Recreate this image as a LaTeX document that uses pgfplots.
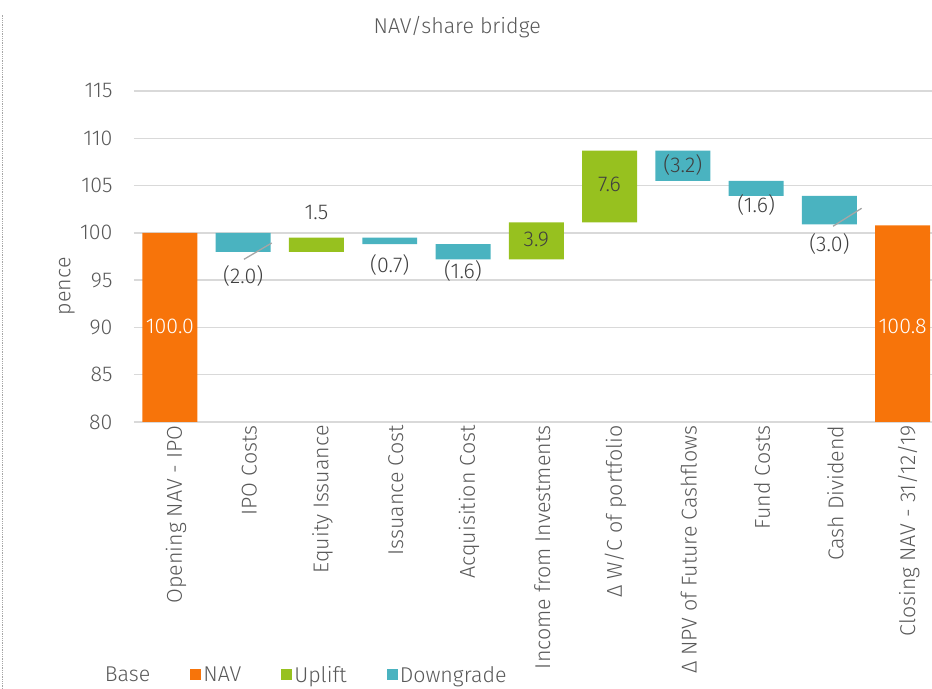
\documentclass[border=0pt]{standalone}
\usepackage{pgfplots}
\usepackage{pgfplotstable}
\pgfplotsset{compat=1.18}
\usepackage{fontspec}
\setmainfont{Fira Sans}[UprightFont={* Light}, Numbers=Proportional]
\definecolor{navorange}{RGB}{247,116,10}
\definecolor{uplift}{RGB}{151,193,31}
\definecolor{down}{RGB}{74,179,192}
\definecolor{gridgray}{RGB}{217,217,217}
\definecolor{textgray}{RGB}{89,89,89}
\definecolor{labgray}{RGB}{64,64,64}

\pgfplotstableread{
x base nav up down
0 0 100 0 0
1 98.0 0 0 2.0
2 98.0 0 1.5 0
3 98.8 0 0 0.7
4 97.2 0 0 1.6
5 97.2 0 3.9 0
6 101.1 0 7.6 0
7 105.5 0 0 3.2
8 103.9 0 0 1.6
9 100.9 0 0 3.0
10 0 100.8 0 0
}\bridge

\pgfplotstableread{
x y lab
1 95.4 (2.0)
2 102.2 1.5
3 96.6 (0.7)
4 96.0 (1.6)
5 99.35 3.9
6 105.1 7.6
7 107.2 (3.2)
8 102.9 (1.6)
9 98.8 (3.0)
}\darklabels

\pgfplotstableread{
x y lab
0 90.1 100.0
10 90.15 100.8
}\whitelabels

\newcommand{\fs}{\fontsize{21.5}{25}\selectfont}

\begin{document}
\begin{tikzpicture}
\path[use as bounding box] (-134bp,-267bp) rectangle (798bp,422bp);
\draw[densely dotted, gray!70, line width=0.8bp] (-132bp,-267bp) -- (-132bp,407bp);
\pgfplotsset{sq/.style={legend image code/.code={\fill[##1] (0bp,-5.5bp) rectangle (11bp,5.5bp);}},
  nosq/.style={legend image code/.code={\path (0bp,-5.5bp) rectangle (11bp,5.5bp);}}}
\begin{axis}[
  scale only axis, width=798bp, height=331bp,
  xmin=-0.49, xmax=10.4, ymin=80, ymax=115,
  ybar stacked, bar width=0.75,
  ytick={80,85,...,115},
  xtick={0,...,10},
  xticklabels={Opening NAV - IPO, IPO Costs, Equity Issuance, Issuance Cost, Acquisition Cost, Income from Investments, Δ W/C of portfolio, Δ NPV of Future Cashflows, Fund Costs, Cash Dividend, Closing NAV - 31/12/19},
  /pgf/number format/assume math mode=true,
  x tick label style={rotate=90, anchor=east, font=\fs, text=textgray, yshift=-6bp},
  y tick label style={font=\fs, text=textgray, xshift=-18bp},
  ymajorgrids, grid style={gridgray, line width=1.5bp},
  axis line style={draw=none}, major tick length=0, tick style={draw=none},
  ylabel={pence}, ylabel style={at={(axis description cs:-0.084,0.41)}, anchor=center, font=\fs, text=textgray},
  title={NAV/share bridge}, title style={at={(axis description cs:0.405,1.199)}, anchor=center, yshift=-8bp, font=\fs, text=textgray},
  legend columns=4,
  legend style={at={(axis description cs:-0.053,-0.764)}, anchor=west, draw=none, fill=none, font=\fs, text=textgray,
    /tikz/every even column/.style={column sep=38bp}, inner sep=0pt},
]
\addplot[nosq, fill=none, draw=none] table[x=x, y=base] {\bridge};
\addlegendentry{Base}
\addplot[sq, fill=navorange, draw=none] table[x=x, y=nav] {\bridge};
\addlegendentry{NAV}
\addplot[sq, fill=uplift, draw=none] table[x=x, y=up] {\bridge};
\addlegendentry{Uplift}
\addplot[sq, fill=down, draw=none] table[x=x, y=down] {\bridge};
\addlegendentry{Downgrade}
\end{axis}
\begin{axis}[
  scale only axis, width=798bp, height=331bp,
  xmin=-0.49, xmax=10.4, ymin=80, ymax=115,
  hide axis, clip=false,
]
\addplot[black!35, line width=1.3bp] coordinates {(1.39,98.93) (1.01,97.2)};
\addplot[black!35, line width=1.3bp] coordinates {(9.44,102.6) (9.05,100.7)};
\addplot[draw=none, mark=none, nodes near coords, point meta=explicit symbolic,
  every node near coord/.style={anchor=center, font=\fs, text=labgray}]
  table[x=x, y=y, meta=lab] {\darklabels};
\addplot[draw=none, mark=none, nodes near coords, point meta=explicit symbolic,
  every node near coord/.style={anchor=center, font=\fs, text=white}]
  table[x=x, y=y, meta=lab] {\whitelabels};
\end{axis}
\end{tikzpicture}
\end{document}
